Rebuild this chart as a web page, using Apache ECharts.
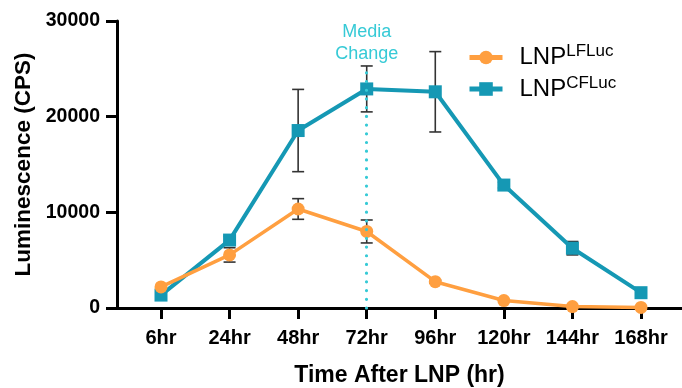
<!DOCTYPE html>
<html>
<head>
<meta charset="utf-8">
<script src="https://cdn.jsdelivr.net/npm/echarts@6/dist/echarts.min.js"></script>
<style>
  html, body { margin: 0; padding: 0; background: #fff; }
  #main { width: 682px; height: 388px; }
</style>
</head>
<body>
<div id="main"></div>
<script>
// time points and readings (mean, +/- error)
var categories = ['6hr', '24hr', '48hr', '72hr', '96hr', '120hr', '144hr', '168hr'];
var lflucMean = [2200, 5550, 10350, 8000, 2750, 780, 150, 60];
var lflucErr  = [0, 750, 1080, 1200, 150, 0, 0, 0];
var cflucMean = [1350, 7100, 18550, 22900, 22600, 12850, 6250, 1600];
var cflucErr  = [0, 400, 4300, 2400, 4200, 300, 700, 0];
var yTicks = [0, 10000, 20000, 30000];
var mediaChangeAt = 3;      // 72hr
var mediaLineTop = 24600;

var ORANGE = '#FF9F40';
var TEAL = '#1598B4';
var CYAN = '#36CAD6';

var idx = categories.map(function (c, i) { return i; });

var points = function (mean) {
  var out = [];
  for (var i = 0; i < mean.length; i++) out.push([i, mean[i]]);
  return out;
};
var bars = function (mean, err) {
  var out = [];
  for (var i = 0; i < mean.length; i++) {
    if (err[i] > 0) out.push([i, mean[i] - err[i], mean[i] + err[i]]);
  }
  return out;
};

var errorBar = function (params, api) {
  var lo = api.coord([api.value(0), api.value(1)]);
  var hi = api.coord([api.value(0), api.value(2)]);
  var hw = 6;
  var st = { stroke: '#333', lineWidth: 1.6 };
  return {
    type: 'group',
    children: [
      { type: 'line', shape: { x1: lo[0], y1: lo[1], x2: hi[0], y2: hi[1] }, style: st },
      { type: 'line', shape: { x1: hi[0] - hw, y1: hi[1], x2: hi[0] + hw, y2: hi[1] }, style: st },
      { type: 'line', shape: { x1: lo[0] - hw, y1: lo[1], x2: lo[0] + hw, y2: lo[1] }, style: st }
    ]
  };
};

var legendName = function (name) {
  var sup = name.split(' ')[1];
  return '{b|LNP}{s|' + sup + '}';
};

var option = {
  animation: false,
  backgroundColor: '#fff',
  grid: { left: 117, right: 0, top: 21, bottom: 80, outerBoundsMode: 'none', containLabel: false },
  legend: {
    orient: 'vertical',
    left: 462,
    top: 38,
    itemWidth: 33,
    itemHeight: 17,
    itemGap: 5,
    data: ['LNP LFLuc', 'LNP CFLuc'],
    formatter: legendName,
    lineStyle: { width: 5 },
    textStyle: {
      rich: {
        b: { fontFamily: 'Liberation Sans', fontSize: 24, color: '#000', lineHeight: 25, padding: [0, 0, 0, 12] },
        s: { fontFamily: 'Liberation Sans', fontSize: 17, color: '#000', padding: [0, 0, 12, 0] }
      }
    }
  },
  xAxis: {
    type: 'value',
    min: -0.6417,
    max: 7.598,
    name: 'Time After LNP (hr)',
    nameLocation: 'middle',
    nameGap: 56,
    nameTextStyle: { fontFamily: 'Liberation Sans', fontWeight: 'bold', fontSize: 23, color: '#000' },
    axisLine: { lineStyle: { color: '#000', width: 3 } },
    axisTick: { customValues: idx, length: 11, lineStyle: { color: '#000', width: 3 } },
    axisLabel: {
      customValues: idx,
      margin: 20,
      fontFamily: 'Liberation Sans',
      fontWeight: 'bold',
      fontSize: 20,
      color: '#000',
      formatter: function (v) { return categories[Math.round(v)]; }
    },
    splitLine: { show: false }
  },
  yAxis: {
    type: 'value',
    min: 0,
    max: 30000,
    interval: 10000,
    name: 'Luminescence (CPS)',
    nameLocation: 'middle',
    nameGap: 78,
    nameTextStyle: { fontFamily: 'Liberation Sans', fontWeight: 'bold', fontSize: 22.5, color: '#000' },
    axisLine: { show: true, onZero: false, lineStyle: { color: '#000', width: 3 } },
    axisTick: { show: true, length: 11, lineStyle: { color: '#000', width: 3 } },
    axisLabel: {
      margin: 17,
      fontFamily: 'Liberation Sans',
      fontWeight: 'bold',
      fontSize: 19.5,
      color: '#000',
      customValues: yTicks,
      formatter: function (v) { return String(v); }
    },
    splitLine: { show: false }
  },
  series: [
    {
      name: 'LNP CFLuc',
      type: 'line',
      data: points(cflucMean),
      symbol: 'rect',
      symbolSize: 13,
      lineStyle: { color: TEAL, width: 4 },
      itemStyle: { color: TEAL },
      z: 3,
      markLine: {
        silent: true,
        symbol: ['none', 'none'],
        lineStyle: { color: CYAN, width: 3.2, type: [0.01, 8.7], cap: 'round' },
        label: {
          show: true,
          position: 'end',
          formatter: 'Media\nChange',
          color: CYAN,
          fontFamily: 'Liberation Sans',
          fontSize: 18,
          lineHeight: 22,
          distance: 8
        },
        data: [[{ coord: [mediaChangeAt, 0] }, { coord: [mediaChangeAt, mediaLineTop] }]]
      }
    },
    {
      name: 'LNP LFLuc',
      type: 'line',
      data: points(lflucMean),
      symbol: 'circle',
      symbolSize: 13,
      lineStyle: { color: ORANGE, width: 3.5 },
      itemStyle: { color: ORANGE },
      z: 4
    },
    {
      type: 'custom',
      renderItem: errorBar,
      data: bars(cflucMean, cflucErr),
      z: 2
    },
    {
      type: 'custom',
      renderItem: errorBar,
      data: bars(lflucMean, lflucErr),
      z: 2
    }
  ]
};

echarts.init(document.getElementById('main')).setOption(option);
</script>
</body>
</html>
